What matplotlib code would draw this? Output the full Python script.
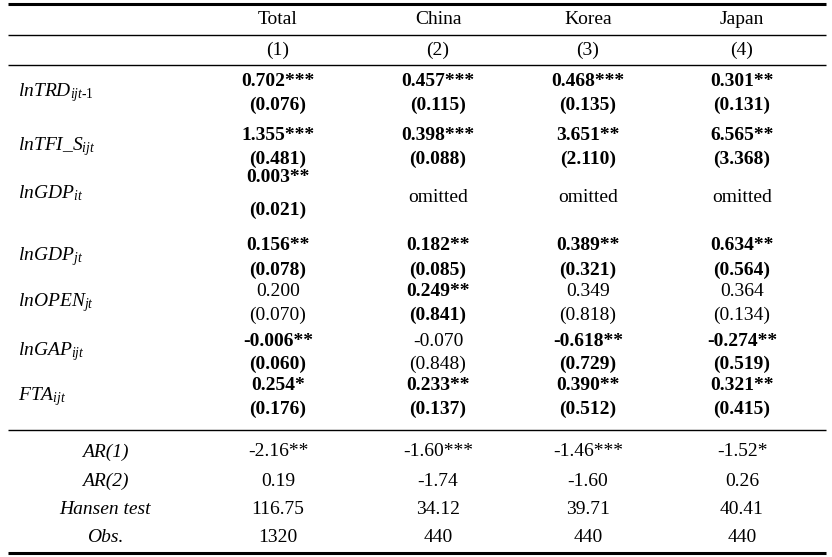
import matplotlib
matplotlib.use("Agg")
import matplotlib.pyplot as plt

plt.rcParams["mathtext.fontset"] = "custom"
plt.rcParams["mathtext.rm"] = "Liberation Serif"
plt.rcParams["mathtext.it"] = "Liberation Serif:italic"

columns = ["Total", "China", "Korea", "Japan"]
col_nums = ["(1)", "(2)", "(3)", "(4)"]

var_labels = [r"$lnTRD_{ijt\text{-}1}$", r"$lnTFI\_S_{ijt}$", r"$lnGDP_{it}$",
              r"$lnGDP_{jt}$", r"$lnOPEN_{jt}$", r"$lnGAP_{ijt}$", r"$FTA_{ijt}$"]
coefs = [
    ["0.702***", "0.457***", "0.468***", "0.301**"],
    ["1.355***", "0.398***", "3.651**", "6.565**"],
    ["0.003**", "omitted", "omitted", "omitted"],
    ["0.156**", "0.182**", "0.389**", "0.634**"],
    ["0.200", "0.249**", "0.349", "0.364"],
    ["-0.006**", "-0.070", "-0.618**", "-0.274**"],
    ["0.254*", "0.233**", "0.390**", "0.321**"],
]
ses = [
    ["(0.076)", "(0.115)", "(0.135)", "(0.131)"],
    ["(0.481)", "(0.088)", "(2.110)", "(3.368)"],
    ["(0.021)", "", "", ""],
    ["(0.078)", "(0.085)", "(0.321)", "(0.564)"],
    ["(0.070)", "(0.841)", "(0.818)", "(0.134)"],
    ["(0.060)", "(0.848)", "(0.729)", "(0.519)"],
    ["(0.176)", "(0.137)", "(0.512)", "(0.415)"],
]
bold = [
    [1, 1, 1, 1],
    [1, 1, 1, 1],
    [1, 0, 0, 0],
    [1, 1, 1, 1],
    [0, 1, 0, 0],
    [1, 0, 1, 1],
    [1, 1, 1, 1],
]
stat_labels = ["AR(1)", "AR(2)", "Hansen test", "Obs."]
stats = [
    ["-2.16**", "-1.60***", "-1.46***", "-1.52*"],
    ["0.19", "-1.74", "-1.60", "0.26"],
    ["116.75", "34.12", "39.71", "40.41"],
    ["1320", "440", "440", "440"],
]

W, H = 832, 557
fig = plt.figure(figsize=(W / 100, H / 100), dpi=100)
ax = fig.add_axes([0, 0, 1, 1])
ax.set_xlim(0, W)
ax.set_ylim(H, 0)
ax.axis("off")

font = "Liberation Serif"
fs = 14
col_x = [278, 438, 588, 742]

def hline(y, lw):
    ax.plot([8, 826], [y, y], color="black", lw=lw, solid_capstyle="butt")

hline(4, 2.2)
hline(35, 1.0)
hline(65, 1.0)
hline(430, 1.0)
hline(553, 2.2)

for x, c, n in zip(col_x, columns, col_nums):
    ax.text(x, 20, c, ha="center", va="center", family=font, fontsize=fs)
    ax.text(x, 50, n, ha="center", va="center", family=font, fontsize=fs)

coef_y = [82, 136, 178, 246, 292, 341, 386]
se_gap = [23, 23, 32, 24, 23, 23, 23]
for i, lab in enumerate(var_labels):
    y0 = coef_y[i]
    g = se_gap[i]
    ax.text(18, y0 + g / 2 - 1, lab, ha="left", va="center", fontsize=fs)
    for j, x in enumerate(col_x):
        w = "bold" if bold[i][j] else "normal"
        if coefs[i][j] == "omitted":
            ax.text(x, 198, "omitted", ha="center", va="center",
                    family=font, fontsize=fs)
            continue
        ax.text(x, y0, coefs[i][j], ha="center", va="center", family=font,
                fontsize=fs, weight=w)
        ax.text(x, y0 + g, ses[i][j], ha="center", va="center",
                family=font, fontsize=fs, weight=w)

stat_y = [452, 481, 509, 537]
for lab, row, y in zip(stat_labels, stats, stat_y):
    ax.text(105, y, lab, ha="center", va="center", family=font, fontsize=fs,
            style="italic")
    for x, v in zip(col_x, row):
        ax.text(x, y, v, ha="center", va="center", family=font, fontsize=fs)

fig.savefig("out.png", dpi=100)
